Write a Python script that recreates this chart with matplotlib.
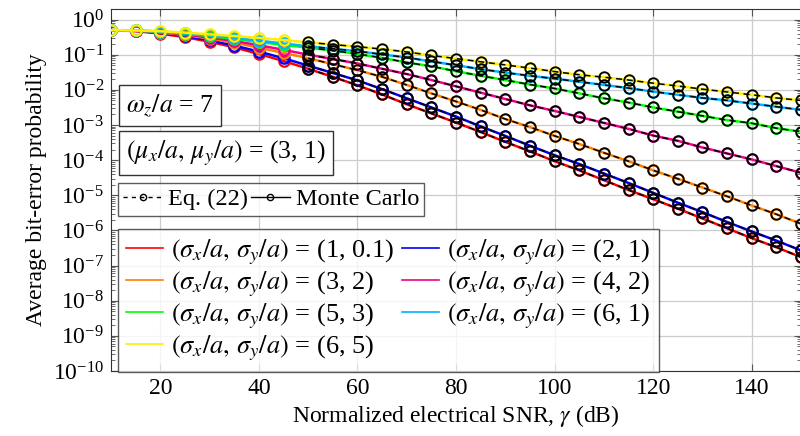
import numpy as np
import matplotlib
matplotlib.use('Agg')
import matplotlib.pyplot as plt
from matplotlib.lines import Line2D
from matplotlib.ticker import LogLocator, NullFormatter

plt.rcParams['font.family'] = ['Liberation Serif', 'DejaVu Serif']
plt.rcParams['mathtext.fontset'] = 'stix'

# SNR grid (dB)
snr = [10, 15, 20, 25, 30, 35, 40, 45, 50, 55, 60, 65, 70, 75, 80, 85, 90, 95,
       100, 105, 110, 115, 120, 125, 130, 135, 140, 145, 150]

# read-off values, given as log10 of the bit-error probability
log_p_1_01 = [-0.30, -0.33, -0.40, -0.50, -0.63, -0.79, -0.98, -1.18, -1.40, -1.63,
              -1.87, -2.13, -2.41, -2.67, -2.93, -3.20, -3.48, -3.75, -4.03, -4.29,
              -4.57, -4.85, -5.11, -5.38, -5.66, -5.94, -6.22, -6.48, -6.76]
log_p_2_1 = [-0.30, -0.32, -0.38, -0.47, -0.59, -0.74, -0.91, -1.10, -1.31, -1.52,
             -1.73, -1.98, -2.24, -2.50, -2.76, -3.04, -3.31, -3.59, -3.86, -4.11,
             -4.38, -4.65, -4.93, -5.21, -5.48, -5.76, -6.03, -6.29, -6.57]
log_p_3_2 = [-0.30, -0.32, -0.37, -0.44, -0.54, -0.66, -0.80, -0.95, -1.10, -1.27,
             -1.44, -1.63, -1.86, -2.10, -2.33, -2.57, -2.83, -3.06, -3.31, -3.54,
             -3.79, -4.03, -4.29, -4.53, -4.78, -5.03, -5.29, -5.54, -5.81]
log_p_4_2 = [-0.30, -0.32, -0.36, -0.42, -0.51, -0.61, -0.73, -0.86, -1.00, -1.12,
             -1.25, -1.40, -1.55, -1.72, -1.90, -2.08, -2.26, -2.44, -2.60, -2.77,
             -2.94, -3.11, -3.30, -3.45, -3.64, -3.81, -3.98, -4.17, -4.36]
log_p_5_3 = [-0.30, -0.31, -0.35, -0.40, -0.47, -0.55, -0.64, -0.72, -0.80, -0.88,
             -0.98, -1.09, -1.22, -1.33, -1.47, -1.60, -1.72, -1.85, -1.96, -2.10,
             -2.24, -2.36, -2.50, -2.62, -2.74, -2.86, -2.95, -3.09, -3.19]
log_p_6_1 = [-0.30, -0.31, -0.34, -0.39, -0.45, -0.52, -0.60, -0.68, -0.76, -0.83,
             -0.90, -0.99, -1.08, -1.19, -1.30, -1.41, -1.51, -1.60, -1.68, -1.77,
             -1.86, -1.95, -2.05, -2.14, -2.23, -2.30, -2.39, -2.48, -2.57]
log_p_6_5 = [-0.30, -0.31, -0.33, -0.37, -0.42, -0.47, -0.52, -0.58, -0.65, -0.71,
             -0.77, -0.84, -0.92, -1.02, -1.11, -1.20, -1.29, -1.38, -1.48, -1.57,
             -1.64, -1.72, -1.81, -1.89, -1.98, -2.06, -2.14, -2.23, -2.30]

labels = ['(1, 0.1)', '(2, 1)', '(3, 2)', '(4, 2)', '(5, 3)', '(6, 1)', '(6, 5)']
curves = [log_p_1_01, log_p_2_1, log_p_3_2, log_p_4_2, log_p_5_3, log_p_6_1, log_p_6_5]
colors = ['#ff0000', '#0000ff', '#ff8000', '#f0008c', '#00ff00', '#00b4ff', '#ffee00']

eq_start = 50  # Eq. (22) markers drawn from here on
fs = 17

fig = plt.figure(figsize=(8, 4.36), dpi=100)
ax = fig.add_axes([111 / 800, 65 / 436, 690 / 800, 362 / 436])

snr = np.array(snr)
handles = []
for lab, lp, c in zip(labels, curves, colors):
    p = 10 ** np.array(lp)
    ax.plot(snr, p, '-', color=c, lw=1.8, marker='o', ms=7.5, mfc='none',
            mec=c, mew=1.6, zorder=3)
    m = snr >= eq_start
    ax.plot(snr[m], p[m], '--', color='black', lw=1.1, dashes=(4, 3), marker='o',
            ms=7.5, mfc='none', mec='black', mew=1.3, zorder=4)
    handles.append(Line2D([], [], color=c, lw=1.2,
                          label=r'$(\sigma_x/a,\,\sigma_y/a)$ = ' + lab))

ax.set_yscale('log')
ax.set_xlim(10, 150)
ax.set_ylim(1e-10, 2)
ax.set_xticks([20, 40, 60, 80, 100, 120, 140])
ax.yaxis.set_major_locator(LogLocator(base=10, numticks=20))
ax.yaxis.set_minor_locator(LogLocator(base=10, subs=np.arange(2, 10), numticks=20))
ax.yaxis.set_minor_formatter(NullFormatter())
ax.tick_params(which='both', direction='in', top=True, right=True, labelsize=fs,
               color='#555555')
ax.tick_params(which='major', length=5, pad=5)
ax.tick_params(which='minor', length=3)
ax.grid(True, which='major', color='#cccccc', lw=0.9, zorder=0)
for s in ax.spines.values():
    s.set_color('#333333')

ax.set_xlabel(r'Normalized electrical SNR, $\gamma$ (dB)', fontsize=fs, labelpad=3)
ax.set_ylabel('Average bit-error probability', fontsize=fs, labelpad=4)

box = dict(boxstyle='square,pad=0.28', fc='white', ec='#333333', lw=1.0)
ax.text(0.022, 0.734, r'$\omega_z/a$ = 7', transform=ax.transAxes, fontsize=18.5,
        va='center', ha='left', bbox=box, zorder=6)
ax.text(0.022, 0.602, r'$(\mu_x/a,\,\mu_y/a)$ = (3, 1)', transform=ax.transAxes,
        fontsize=18.5, va='center', ha='left', bbox=box, zorder=6)

# method legend
h_eq = Line2D([], [], color='black', ls='--', lw=1.0, dashes=(3, 3), marker='o',
              ms=4.5, mfc='none', mew=1.0, label='Eq. (22)')
h_mc = Line2D([], [], color='black', ls='-', lw=1.0, marker='o', ms=4.5,
              mfc='none', mew=1.0, label='Monte Carlo')
leg1 = ax.legend(handles=[h_eq, h_mc], ncol=2, loc='upper left',
                 bbox_to_anchor=(0.0102, 0.519), borderaxespad=0, fontsize=17.5,
                 frameon=True, fancybox=False, edgecolor='#333333',
                 handlelength=1.6, handletextpad=0.25, columnspacing=0.1,
                 borderpad=0.22)
leg1.get_frame().set_linewidth(1.0)
leg1.set_zorder(6)
ax.add_artist(leg1)

order = [0, 2, 4, 6, 1, 3, 5]
leg2 = ax.legend(handles=[handles[i] for i in order], ncol=2, loc='upper left',
                 bbox_to_anchor=(0.0102, 0.392), borderaxespad=0, fontsize=19,
                 frameon=True, fancybox=False, edgecolor='#333333',
                 handlelength=1.4, handletextpad=0.3, columnspacing=0.3,
                 labelspacing=0.1, borderpad=0.32)
leg2.get_frame().set_linewidth(1.0)
leg2.set_zorder(6)

fig.savefig('out.png', dpi=100)
